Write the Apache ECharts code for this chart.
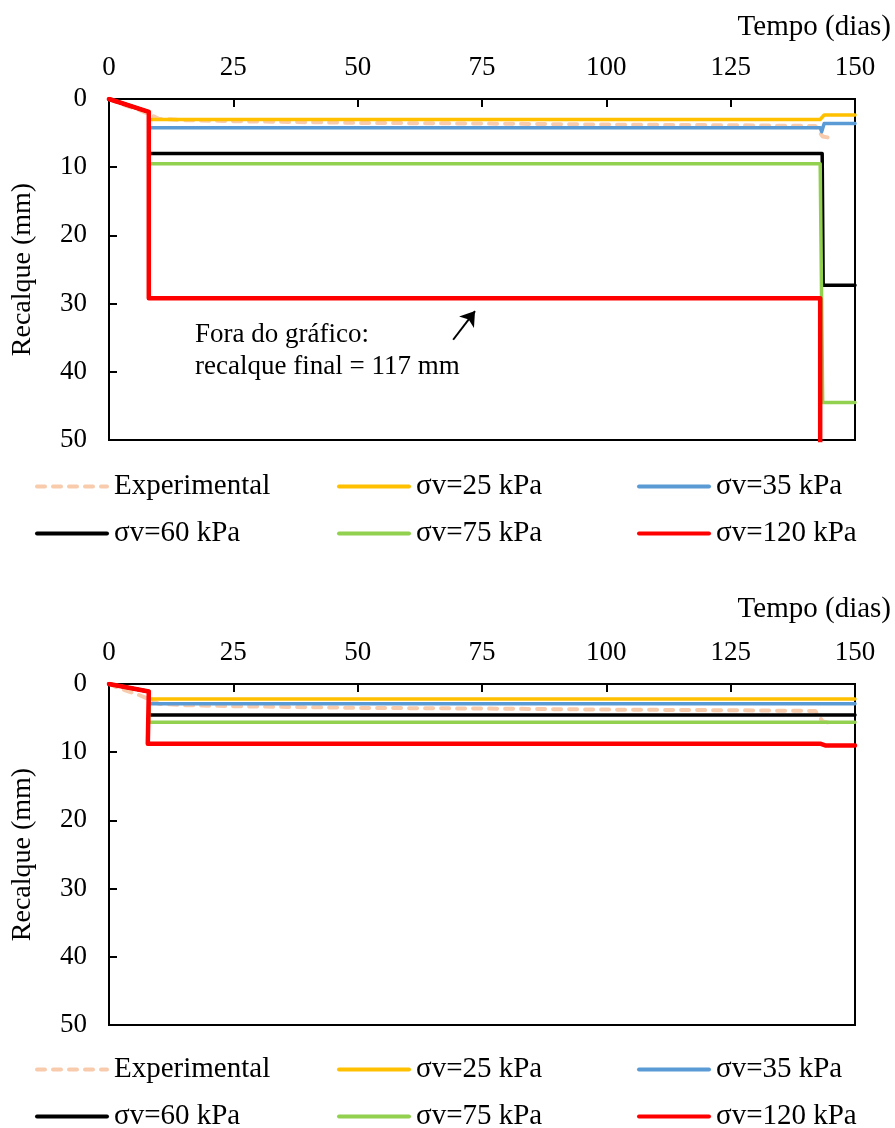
<!DOCTYPE html>
<html>
<head>
<meta charset="utf-8">
<script src="https://cdn.jsdelivr.net/npm/echarts@6/dist/echarts.min.js"></script>
<style>
  html, body { margin: 0; padding: 0; background: #fff; }
  #chart { width: 895px; height: 1128px; }
</style>
</head>
<body>
<div id="chart"></div>
<script>
// Settlement (mm) versus time (days): measured curve and simulations for several vertical stresses
const seriesNames = ['Experimental', 'σv=25 kPa', 'σv=35 kPa', 'σv=60 kPa', 'σv=75 kPa', 'σv=120 kPa'];
const xTicks = [0, 25, 50, 75, 100, 125, 150];
const yTicks = [0, 10, 20, 30, 40, 50];

// Measured settlement [day, mm]
const experimental = [[0, 0], [2, 0.6], [4, 1.1], [6, 1.6], [8, 2.2], [10, 2.9], [15, 3.1], [25, 3.25], [50, 3.5],
  [75, 3.6], [100, 3.75], [125, 3.85], [142, 3.95], [143.5, 5.5], [145, 5.7]];

// Upper panel simulations
const topS25 = [[0, 0], [8, 1.9], [8, 3.0], [143, 3.0], [143.8, 2.35], [150, 2.35]];
const topS35 = [[0, 0], [8, 1.9], [8, 4.2], [143, 4.2], [143.3, 4.8], [143.8, 3.6], [150, 3.6]];
const topS60 = [[0, 0], [8, 1.9], [8, 8.0], [143.4, 8.0], [143.6, 27.3], [150, 27.3]];
const topS75 = [[0, 0], [8, 1.9], [8, 9.5], [143, 9.5], [143.5, 44.5], [150, 44.5]];
const topS120 = [[0, 0], [8, 1.9], [8, 29.2], [143, 29.2], [143, 117], [150, 117]];

// Lower panel simulations
const botS25 = [[0, 0], [8, 1.1], [8, 2.2], [150, 2.2]];
const botS35 = [[0, 0], [8, 1.1], [8, 2.9], [150, 2.9]];
const botS60 = [[0, 0], [8, 1.1], [8, 4.55], [150, 4.55]];
const botS75 = [[0, 0], [8, 1.1], [8, 5.6], [150, 5.6]];
const botS120 = [[0, 0], [8, 1.1], [7.8, 8.75], [143, 8.75], [144, 9.0], [150, 9.0]];

// Arrow pointing at the off-scale final settlement
const arrowFrom = [69.2, 35.3];
const arrowTo = [73.6, 31.1];

const FONT = "'Liberation Serif', 'Times New Roman', serif";
const colors = ['#F8CBAD', '#FFC000', '#5B9BD5', '#000000', '#92D050', '#FF0000'];
const widths = [4, 3.5, 3.5, 3.5, 3.5, 4.5];

const panels = [
  { top: 99, data: [experimental, topS25, topS35, topS60, topS75, topS120], legendTop: 472, titleY: 28 },
  { top: 684, data: [experimental, botS25, botS35, botS60, botS75, botS120], legendTop: 1055, titleY: 610 }
];

const grids = [], xAxes = [], yAxes = [], series = [], legends = [], graphics = [];
const legendCols = [35, 337, 637];

panels.forEach((p, gi) => {
  grids.push({ left: 109, top: p.top, width: 746, height: 341, show: true, borderColor: '#000', borderWidth: 2, backgroundColor: 'transparent' });
  xAxes.push({
    type: 'value', gridIndex: gi, position: 'top', min: 0, max: 150, interval: 25,
    axisLine: { show: true, lineStyle: { color: '#000', width: 2 } },
    axisTick: { show: true, inside: true, length: 8, lineStyle: { color: '#000', width: 2 } },
    axisLabel: { margin: 18, color: '#000', fontSize: 27, fontFamily: FONT,
      formatter: v => xTicks.includes(v) ? String(v) : '' },
    splitLine: { show: false }
  });
  yAxes.push({
    type: 'value', gridIndex: gi, inverse: true, min: 0, max: 50, interval: 10,
    name: 'Recalque (mm)', nameLocation: 'middle', nameGap: 72,
    nameTextStyle: { color: '#000', fontSize: 28, fontFamily: FONT },
    axisLine: { show: true, lineStyle: { color: '#000', width: 2 } },
    axisTick: { show: true, inside: true, length: 8, lineStyle: { color: '#000', width: 2 } },
    axisLabel: { margin: 22, color: '#000', fontSize: 27, fontFamily: FONT,
      formatter: v => yTicks.includes(v) ? String(v) : '' },
    splitLine: { show: false }
  });
  p.data.forEach((d, si) => {
    const s = {
      name: seriesNames[si], type: 'line', xAxisIndex: gi, yAxisIndex: gi,
      data: d, showSymbol: false, symbol: 'none', clip: true, silent: true,
      lineStyle: { color: colors[si], width: widths[si], cap: 'round', join: 'round',
        type: si === 0 ? [8, 8] : 'solid' },
      itemStyle: { color: colors[si] }
    };
    if (gi === 0 && si === 5) {
      s.markLine = {
        silent: true, symbol: ['none', 'arrow'], symbolSize: 14,
        label: { show: false },
        lineStyle: { color: '#000', width: 2, type: 'solid' },
        data: [[{ coord: arrowFrom }, { coord: arrowTo }]]
      };
    }
    series.push(s);
  });
  seriesNames.forEach((n, si) => {
    legends.push({
      data: [n], left: legendCols[si % 3], top: p.legendTop + (si < 3 ? 0 : 47),
      padding: 0, itemWidth: 70, itemHeight: 14, itemGap: 0, selectedMode: false,
      itemStyle: { opacity: 0 },
      lineStyle: { width: si === 0 ? 4 : 4 },
      textStyle: { color: '#000', fontSize: 29, fontFamily: FONT, padding: [0, 0, 0, 2] }
    });
  });
  graphics.push({
    type: 'text', right: 4, top: p.titleY - 15,
    style: { text: 'Tempo (dias)', fill: '#000', font: '29px ' + FONT }
  });
});

graphics.push({
  type: 'text', left: 195, top: 319,
  style: { text: 'Fora do gráfico:\nrecalque final = 117 mm', fill: '#000', font: '27px ' + FONT, lineHeight: 32 }
});

const chart = echarts.init(document.getElementById('chart'), null, { renderer: 'canvas' });
chart.setOption({
  animation: false,
  backgroundColor: '#fff',
  grid: grids, xAxis: xAxes, yAxis: yAxes, series: series, legend: legends, graphic: graphics
});
</script>
</body>
</html>
